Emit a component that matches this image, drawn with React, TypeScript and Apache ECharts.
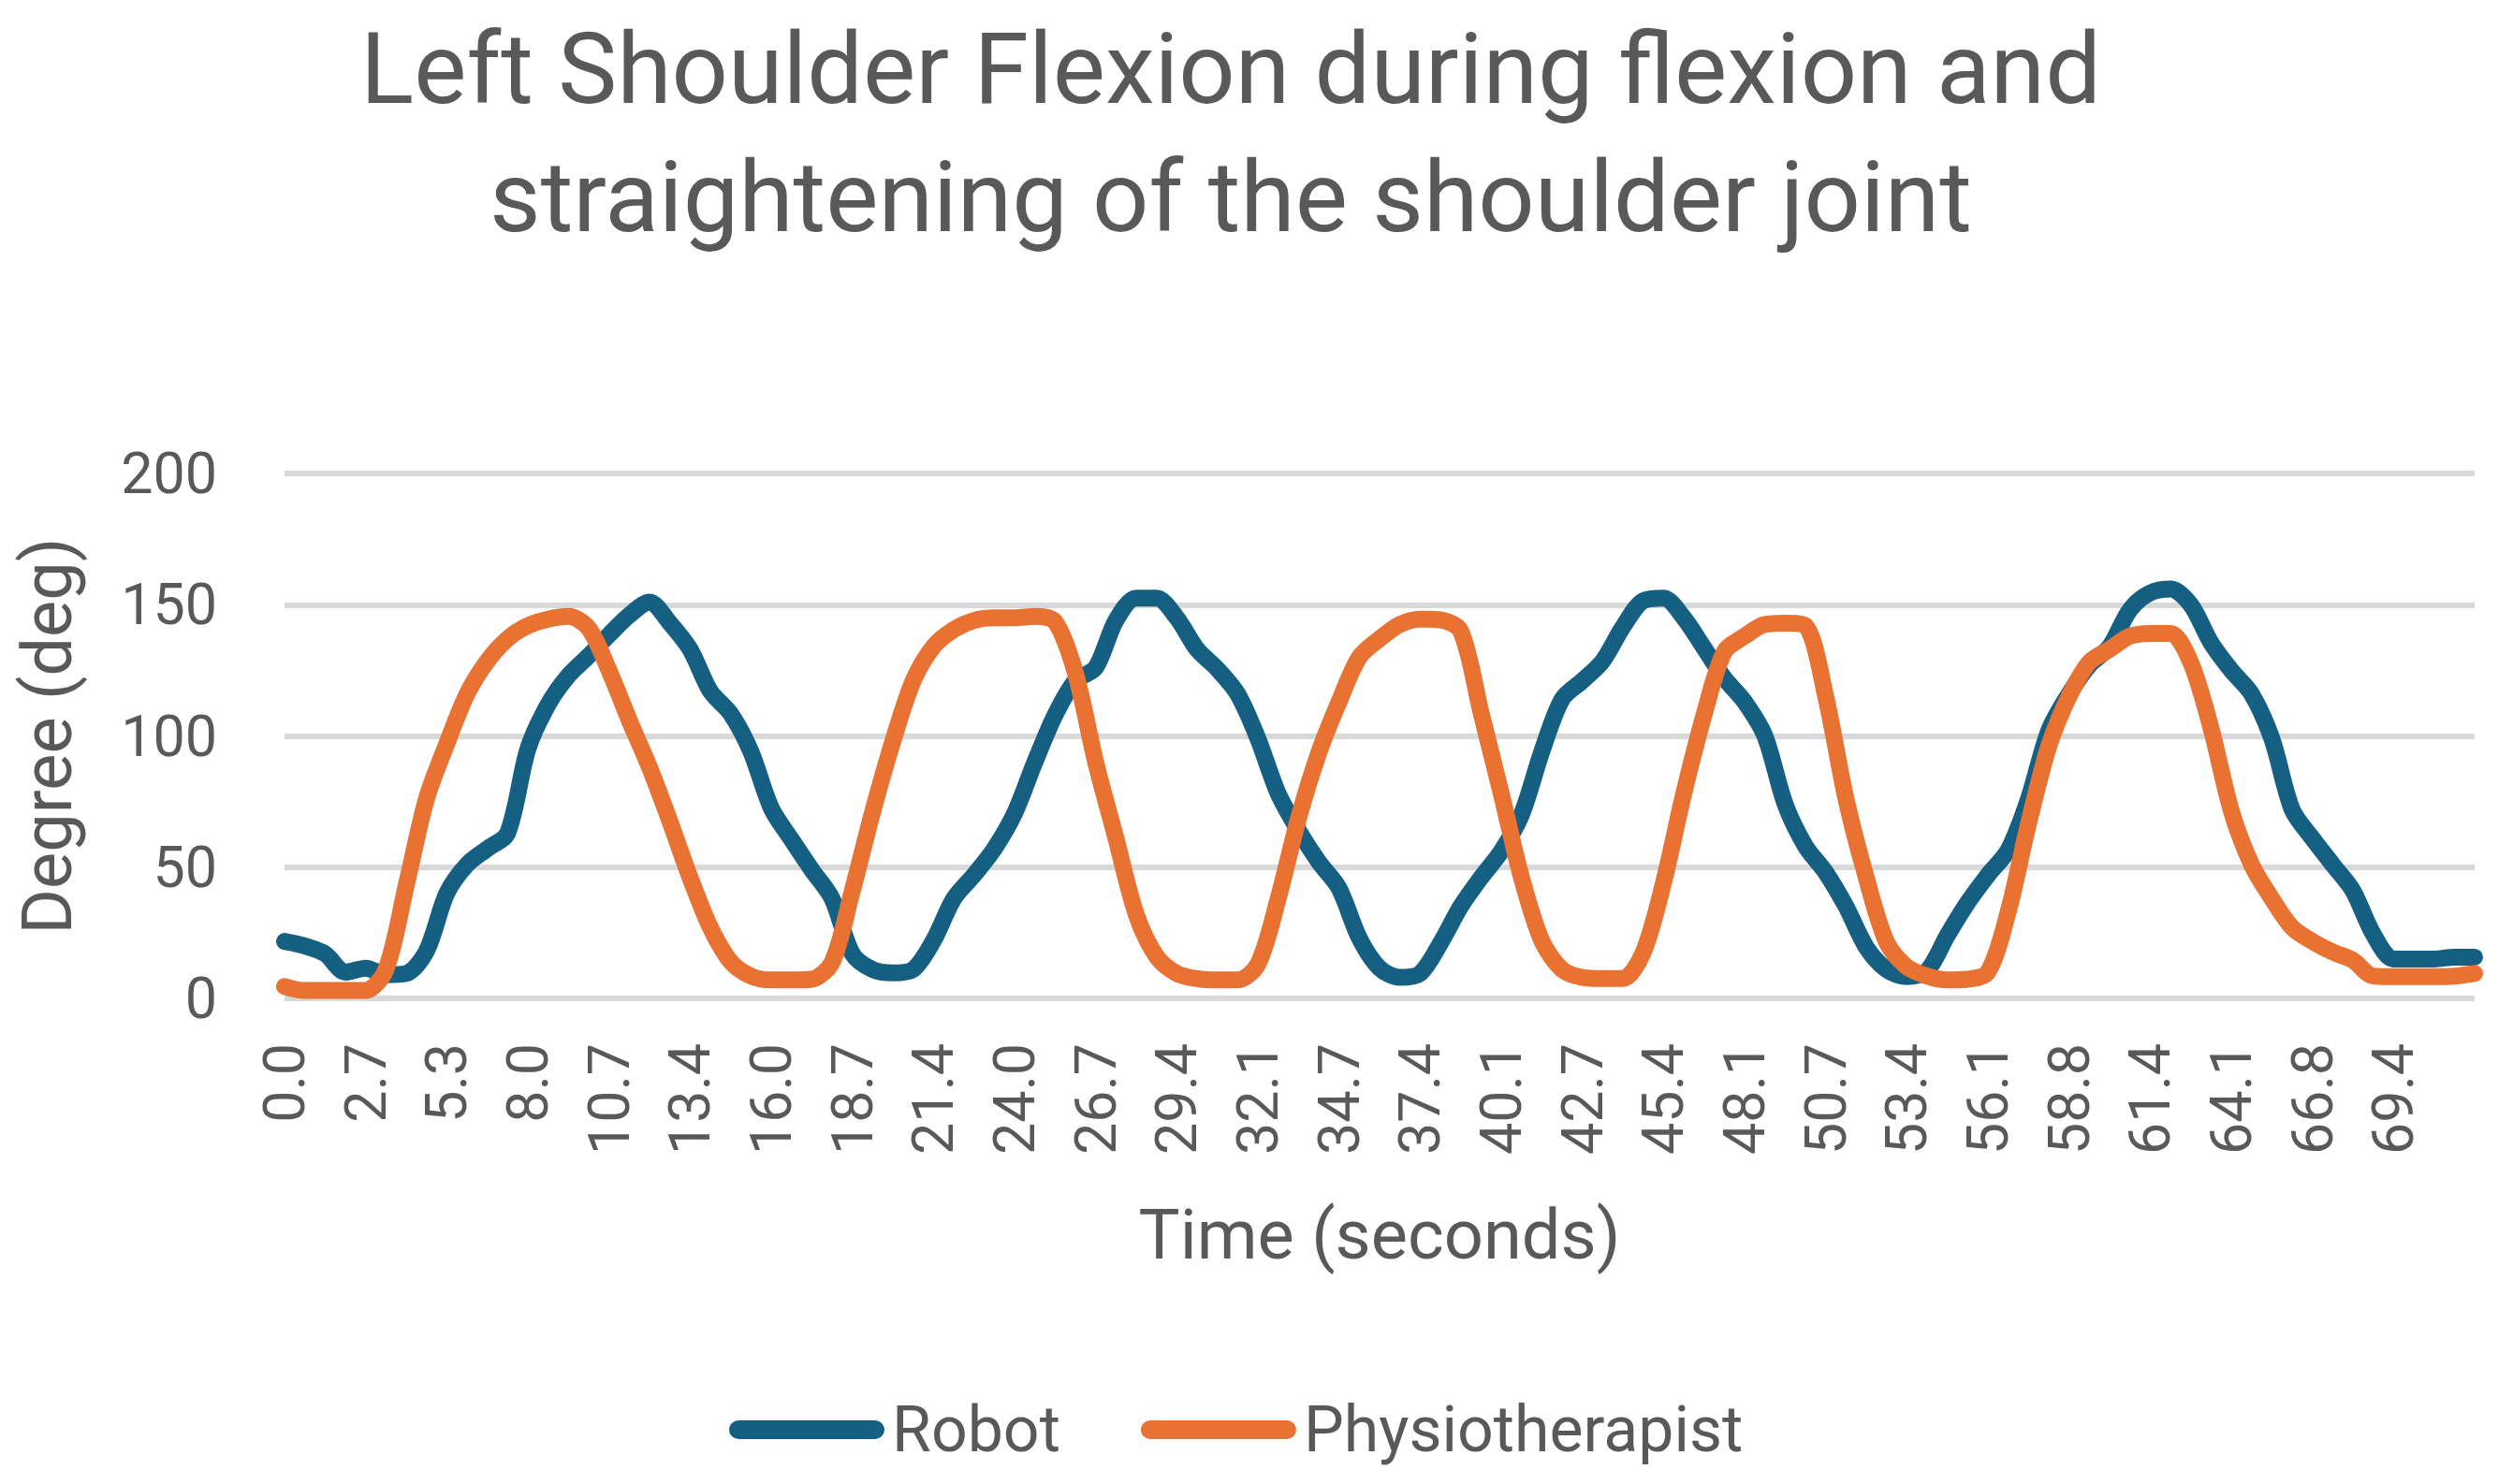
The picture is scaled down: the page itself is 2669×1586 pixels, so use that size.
import React, { useEffect, useRef } from 'react';
import * as echarts from 'echarts';

const tickLabels = ['0.0', '2.7', '5.3', '8.0', '10.7', '13.4', '16.0', '18.7', '21.4', '24.0', '26.7', '29.4', '32.1', '34.7', '37.4', '40.1', '42.7', '45.4', '48.1', '50.7', '53.4', '56.1', '58.8', '61.4', '64.1', '66.8', '69.4'];

const POINTS_PER_TICK = 4;

const robot = [
  21.7, 20, 17, 10, 11.5, 9, 9.5, 18, 40, 51,
  57, 63, 95, 112, 123, 130.5, 138.5, 146, 151, 143,
  133, 117, 108.5, 94, 72.5, 60.5, 49, 38, 17, 11,
  9.7, 11, 22, 38, 47, 57, 70.5, 90, 108, 121,
  126, 144, 152.5, 152.5, 145, 133, 125.5, 116, 99, 78,
  64, 52, 42, 23, 11.5, 8, 9.5, 21, 35, 46,
  56, 70, 94, 114, 121, 128.5, 141.5, 151.5, 152.5, 145,
  133.5, 122, 113, 100, 74, 58, 48, 35, 19.5, 11,
  8.3, 10.5, 24, 36.5, 47, 56.5, 76, 102, 116, 127,
  134, 148, 154.5, 156, 150, 135.5, 125, 116, 99, 72,
  61, 51, 41, 24.5, 15, 15, 15, 15.7, 15.7,
];

const physiotherapist = [
  4.5, 3, 3, 3, 3, 11, 43, 76, 97, 116,
  128.5, 137, 142, 144.5, 145.5, 141, 125, 106, 88, 67.5,
  46, 27, 14, 8.5, 7, 7, 7.3, 13.7, 41, 71,
  98, 121, 134, 140.5, 144, 145, 145, 145.5, 143.5, 124,
  90, 61, 32, 16, 9.5, 7.5, 7, 7, 13, 38,
  68.5, 93.5, 113, 130, 137, 142.5, 144.5, 144.2, 140, 109,
  78, 46, 22, 11, 8, 7.6, 7.6, 17.5, 44, 78,
  108, 132, 138, 142.5, 143, 142, 115, 76, 46, 21.5,
  12, 8.5, 7, 7.3, 10, 33, 66.5, 96, 115, 128,
  133, 138, 139, 139, 128, 103, 71.5, 51, 38, 27,
  21.7, 17.7, 14.5, 8.5, 8.3, 8.3, 8.3, 8.5, 9.5,
];

const TEXT = '#595959';
const FONT = 'Roboto';

export default function App() {
  const ref = useRef<HTMLDivElement>(null);

  useEffect(() => {
    if (!ref.current) return;
    const chart = echarts.init(ref.current, null, { renderer: 'svg' });
    const categories = robot.map((_, i) =>
      i % POINTS_PER_TICK === 0 ? (tickLabels[i / POINTS_PER_TICK] ?? '') : ''
    );

    chart.setOption({
      animation: false,
      backgroundColor: '#ffffff',
      textStyle: { fontFamily: FONT, color: TEXT },
      title: {
        text: 'Left Shoulder Flexion during flexion and\nstraightening of the shoulder joint',
        left: 1315,
        top: 5,
        padding: 0,
        textAlign: 'center',
        textStyle: {
          fontFamily: FONT,
          fontSize: 106,
          fontWeight: 'normal',
          color: TEXT,
          lineHeight: 137,
        },
      },
      legend: {
        data: ['Robot', 'Physiotherapist'],
        left: 779,
        top: 1494,
        padding: 0,
        itemWidth: 146,
        itemHeight: 20,
        itemGap: 86,
        lineStyle: { width: 20, cap: 'round' },
        textStyle: {
          fontFamily: FONT,
          fontSize: 68,
          color: TEXT,
          padding: [0, 0, 0, 13],
        },
      },
      grid: { left: 304, top: 506, right: 25, bottom: 519 },
      xAxis: {
        type: 'category',
        data: categories,
        boundaryGap: false,
        axisLine: { show: false },
        axisTick: { show: false },
        axisLabel: {
          interval: POINTS_PER_TICK - 1,
          rotate: 90,
          margin: 48,
          fontSize: 61,
          color: TEXT,
          fontFamily: FONT,
        },
        splitLine: { show: false },
        name: 'Time (seconds)',
        nameLocation: 'middle',
        nameGap: 215,
        nameTextStyle: { fontSize: 74, color: TEXT, fontFamily: FONT },
      },
      yAxis: {
        type: 'value',
        min: 0,
        max: 200,
        interval: 50,
        axisLine: { show: false },
        axisTick: { show: false },
        axisLabel: { margin: 72, fontSize: 61, color: TEXT, fontFamily: FONT },
        splitLine: { lineStyle: { color: '#d9d9d9', width: 6 } },
        name: 'Degree (deg)',
        nameLocation: 'middle',
        nameRotate: 90,
        nameGap: 217,
        nameTextStyle: { fontSize: 74, color: TEXT, fontFamily: FONT },
      },
      series: [
        {
          name: 'Robot',
          type: 'line',
          data: robot,
          symbol: 'none',
          showSymbol: false,
          smooth: 0.3,
          itemStyle: { color: '#156082' },
          lineStyle: { color: '#156082', width: 18, cap: 'round', join: 'round' },
        },
        {
          name: 'Physiotherapist',
          type: 'line',
          data: physiotherapist,
          symbol: 'none',
          showSymbol: false,
          smooth: 0.3,
          itemStyle: { color: '#E97132' },
          lineStyle: { color: '#E97132', width: 18, cap: 'round', join: 'round' },
        },
      ],
    });

    return () => chart.dispose();
  }, []);

  return (
    <div
      ref={ref}
      style={{ position: 'fixed', left: 0, top: 0, width: 2669, height: 1586, background: '#fff' }}
    />
  );
}
